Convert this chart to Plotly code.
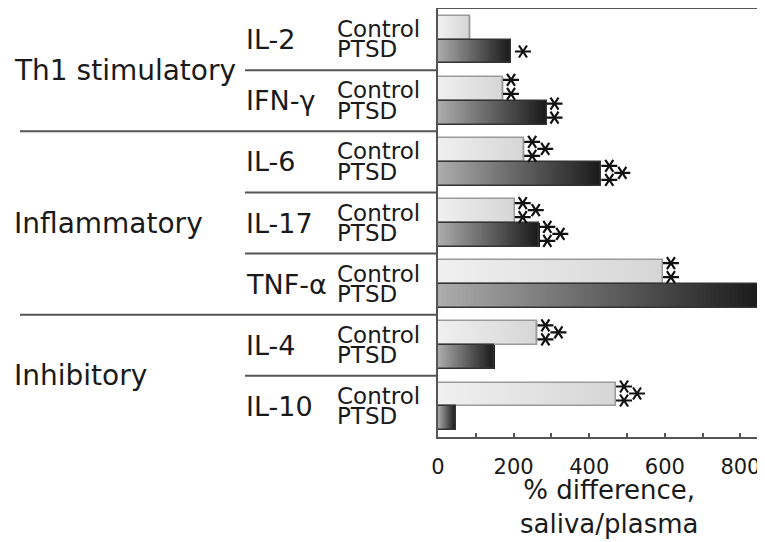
import plotly.graph_objects as go

# ---------------- data ----------------
cytokines = ["IL-2", "IFN-γ", "IL-6", "IL-17", "TNF-α", "IL-4", "IL-10"]
control_vals = [85, 172, 228, 203, 595, 263, 471]
ptsd_vals = [193, 287, 432, 268, 858, 149, 47]
sig_control = [0, 2, 3, 3, 2, 3, 3]
sig_ptsd = [1, 2, 3, 3, 2, 0, 0]
group_names = ["Th1 stimulatory", "Inflammatory", "Inhibitory"]
group_members = [[0, 1], [2, 3, 4], [5, 6]]
series_names = ["Control", "PTSD"]
x_ticks = [0, 200, 400, 600, 800]
x_title = "% difference,<br>saliva/plasma"

# ---------------- layout constants ----------------
# the page body has an 8px margin, so the figure is drawn 8px in from the window corner
BODY = 8
W, H = 765 - BODY, 542 - BODY
ML, MR, MT, MB = 438 - BODY, 0, 1, 542 - 437
PW = W - ML - MR
PH = H - MT - MB
XMAX = 865
NCAT = len(cytokines)
xs_per_px = XMAX / PW
ys_per_px = NCAT / PH
FONT = "DejaVu Sans"
TXT = "#1a1a1a"
LINE = "#555555"


def px2paper(px):
    """page x pixel -> paper x"""
    return (px - BODY - ML) / PW


def py2paper(py):
    """page y pixel -> paper y"""
    return 1 - (py - BODY - MT) / PH


def lerp(c0, c1, t):
    return "rgb(%d,%d,%d)" % tuple(round(a + (b - a) * t) for a, b in zip(c0, c1))


fig = go.Figure()

N = 80
bar_w = 0.39
specs = [
    (control_vals, -bar_w, (240, 240, 240), (214, 214, 214), "#9a9a9a"),
    (ptsd_vals, 0.0, (172, 172, 172), (26, 26, 26), "#333333"),
]
yidx = list(range(NCAT))
for vals, off, c0, c1, lc in specs:
    for k in range(N):
        fig.add_trace(go.Bar(
            y=yidx, x=[v / N for v in vals], base=[v * k / N for v in vals],
            orientation="h", width=bar_w, offset=off,
            marker=dict(color=lerp(c0, c1, k / (N - 1)), line=dict(width=0)),
            hoverinfo="skip", showlegend=False))
    fig.add_trace(go.Bar(
        y=yidx, x=vals, orientation="h", width=bar_w, offset=off,
        marker=dict(color="rgba(0,0,0,0)", line=dict(color=lc, width=1.5)),
        hoverinfo="skip", showlegend=False))

# significance asterisks
patterns = {
    1: [(12, 0)],
    2: [(8, -9), (8, 5)],
    3: [(8, -8), (8, 6), (21, -1)],
}
ax_x, ax_y = [], []
for vals, sigs, center in [(control_vals, sig_control, -bar_w / 2),
                           (ptsd_vals, sig_ptsd, bar_w / 2)]:
    for i, (v, s) in enumerate(zip(vals, sigs)):
        for dx, dy in patterns.get(s, []):
            ax_x.append(v + dx * xs_per_px)
            ax_y.append(i + center + dy * ys_per_px)
for sym in ["y-up-open", "y-down-open"]:
    fig.add_trace(go.Scatter(
        x=ax_x, y=ax_y, mode="markers", cliponaxis=False,
        marker=dict(symbol=sym, size=10, angle=90, color="#111111",
                    line=dict(color="#111111", width=2.2)),
        hoverinfo="skip", showlegend=False))

annotations = []
shapes = []
# cytokine and series labels
for i, name in enumerate(cytokines):
    annotations.append(dict(x=px2paper(244), xref="paper", y=i, yref="y",
                            text=name, showarrow=False, xanchor="left", yanchor="middle",
                            font=dict(family=FONT, size=27, color=TXT)))
    for sname, dy in zip(series_names, [-0.17, 0.16]):
        annotations.append(dict(x=px2paper(335), xref="paper", y=i + dy, yref="y",
                                text=sname, showarrow=False, xanchor="left", yanchor="middle",
                                font=dict(family=FONT, size=23, color=TXT)))
# group labels and separators
for g, members in zip(group_names, group_members):
    yc = (members[0] + members[-1]) / 2
    annotations.append(dict(x=px2paper(12), xref="paper", y=yc, yref="y",
                            text=g, showarrow=False, xanchor="left", yanchor="middle",
                            font=dict(family=FONT, size=28, color=TXT)))
    for m in members[:-1]:
        shapes.append(dict(type="line", xref="paper", yref="y",
                           x0=px2paper(245), x1=0, y0=m + 0.5, y1=m + 0.5,
                           line=dict(color=LINE, width=2)))
for members in group_members[:-1]:
    yb = members[-1] + 0.5
    shapes.append(dict(type="line", xref="paper", yref="y",
                       x0=px2paper(20), x1=0, y0=yb, y1=yb,
                       line=dict(color=LINE, width=2)))

annotations.append(dict(x=px2paper(609), xref="paper", y=py2paper(473), yref="paper",
                        text=x_title, showarrow=False, xanchor="center", yanchor="top",
                        font=dict(family=FONT, size=26, color=TXT)))

fig.update_layout(
    width=W, height=H,
    margin=dict(l=ML, r=MR, t=MT, b=MB, pad=0),
    paper_bgcolor="white", plot_bgcolor="white",
    barmode="overlay", bargap=0,
    showlegend=False,
    annotations=annotations, shapes=shapes,
    xaxis=dict(range=[0, XMAX], tickvals=x_ticks, ticks="inside", ticklen=4,
               tickcolor=LINE, tickwidth=1.5,
               minor=dict(dtick=100, ticks="inside", ticklen=4, tickcolor=LINE, tickwidth=1.5),
               showline=True, linecolor=LINE, linewidth=2, mirror=True,
               showgrid=False, zeroline=False, ticklabelstandoff=10,
               tickfont=dict(family=FONT, size=21, color=TXT)),
    yaxis=dict(range=[NCAT - 0.5, -0.5], showticklabels=False, ticks="",
               showline=True, linecolor=LINE, linewidth=2,
               showgrid=False, zeroline=False),
)

fig.write_html("out.html")
